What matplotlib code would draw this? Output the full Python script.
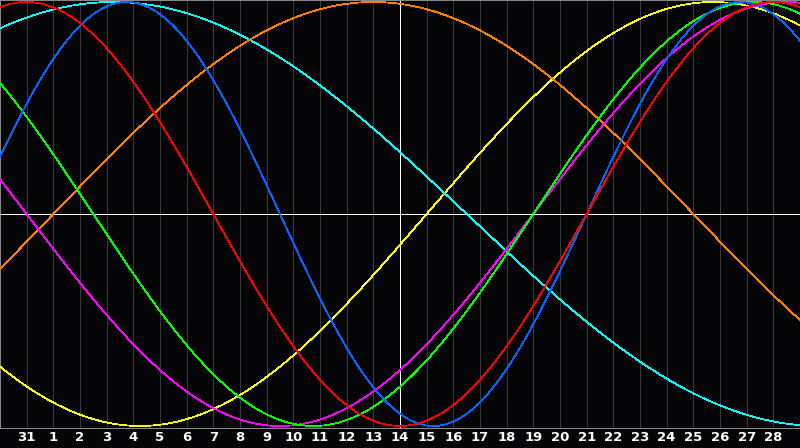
import matplotlib
matplotlib.use("Agg")
import matplotlib.pyplot as plt
import numpy as np

# biorhythm cycles (days) and colours as drawn
names = ["aesthetic", "spiritual", "awareness", "intuitive", "intellectual", "physical", "emotional"]
periods = [43, 53, 48, 38, 33, 23, 28]
colors = ["#ffff00", "#00ffff", "#ff8000", "#ff00ff", "#00ff00", "#0066ff", "#ff0000"]

# days lived at the left edge of the chart (30 Jan)
days_alive_at_start = 23806
n_days = 30
day_labels = [31] + list(range(1, 29))
today_label = 14

bg = "#050508"
fig = plt.figure(figsize=(8, 4.48), dpi=100, facecolor=bg)
ax = fig.add_axes([0, 20 / 448, 1, 428 / 448], facecolor=bg)

t = np.linspace(0, n_days, 1601)
for name, p, c in zip(names, periods, colors):
    ax.plot(t, np.sin(2 * np.pi * (days_alive_at_start + t) / p), color=c,
            lw=0.55, antialiased=False, label=name, zorder=3)

ticks = np.arange(1, len(day_labels) + 1)
today_x = ticks[day_labels.index(today_label, 1)]
for x in ticks:
    if x == today_x:
        continue
    ax.axvline(x, color="#383838", lw=0.6, antialiased=False, zorder=1)
ax.axvline(today_x, color="white", lw=0.6, antialiased=False, zorder=2)
ax.axhline(0, color="white", lw=0.6, antialiased=False, zorder=2)

ax.set_xlim(0, n_days)
ax.set_ylim(-214 / 212, 214 / 212)
ax.set_yticks([])
ax.set_xticks(ticks)
ax.set_xticklabels([str(d) for d in day_labels], color="white",
                   fontsize=9.5, fontweight="bold")
ax.tick_params(axis="x", length=0, pad=2.5)
for s in ax.spines.values():
    s.set_color("#a0a0a0")
    s.set_linewidth(0.6)
ax.spines["right"].set_visible(False)

fig.savefig("out.png", dpi=100, facecolor=bg)
